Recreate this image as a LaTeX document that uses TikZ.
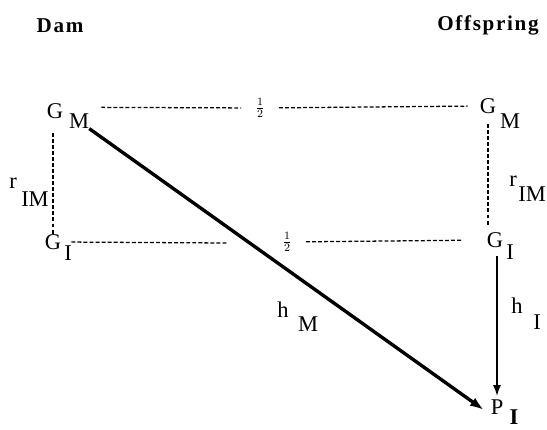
\documentclass[tikz,border=0pt]{standalone}
\usepackage{amsmath}
\usepackage{fontspec}
\setmainfont{Liberation Serif}
\usepackage{tikz}
\usetikzlibrary{arrows.meta}

\tikzset{
  varlbl/.style={inner sep=0pt, font=\fontsize{16}{18}\selectfont},
  headlbl/.style={inner sep=0pt, font=\fontsize{15}{17}\selectfont\bfseries\addfontfeatures{LetterSpace=8}},
  halflbl/.style={inner xsep=3.5mm, inner ysep=0pt, font=\fontsize{11}{12}\selectfont},
  corrline/.style={dash pattern=on 2.8pt off 1.5pt, line width=0.9pt},
  patharrow/.style={-{Latex[length=2.8mm, width=2mm]}, line width=1.4pt}
}

\begin{document}
\begin{tikzpicture}[x=0.25mm, y=-0.25mm]

      % --- Frame ---
      \useasboundingbox (0,0) rectangle (547,429);

      % --- Column Headings ---
      \node[headlbl] (dam) at (60,26) {Dam};
      \node[headlbl] (offspring) at (488,25) {Offspring};

      % --- Dam Side ---
      \node[varlbl] (gml) at (55,111) {G};
      \node[varlbl] (gmlsub) at (79,121) {M};
      \node[varlbl] (gil) at (53,242) {G};
      \node[varlbl] (gilsub) at (68,253) {I};
      \node[varlbl] (rl) at (13,183) {r};
      \node[varlbl] (rlsub) at (35,199) {IM};

      % --- Offspring Side ---
      \node[varlbl] (gmr) at (488,106) {G};
      \node[varlbl] (gmrsub) at (510,121) {M};
      \node[varlbl] (gir) at (495,240) {G};
      \node[varlbl] (girsub) at (510,252) {I};
      \node[varlbl] (rr) at (513,181) {r};
      \node[varlbl] (rrsub) at (532,194) {IM};

      % --- Phenotype ---
      \node[varlbl] (pi) at (497,407) {P};
      \node[varlbl, font=\fontsize{16}{18}\selectfont\bfseries] (pisub) at (514,417) {I};

      % --- Path Coefficients ---
      \node[varlbl] (hm) at (283,310) {h};
      \node[varlbl] (hmsub) at (308,324) {M};
      \node[varlbl] (hi) at (517,306) {h};
      \node[varlbl] (hisub) at (537,322) {I};

      % --- Halves ---
      \node[halflbl] (halfa) at (260,108) {$\frac{1}{2}$};
      \node[halflbl] (halfb) at (287,242) {$\frac{1}{2}$};
      \coordinate (gapb) at (227,243);

      % --- Dashed Correlations ---
      \draw[corrline, shorten >=3mm] ([shift={(12,-6)}]gmlsub.north east) -- (halfa) -- (gmr.west);
      \draw[corrline, shorten <=2.5mm] (gil.east) -- (gapb);
      \draw[corrline, shorten >=6mm] (halfb) -- (gir.west);
      \draw[corrline, shorten <=3.5mm] (gil.north |- gml.south) -- (gil.north);
      \draw[corrline, shorten <=2.5mm, shorten >=1.5mm] (gmr.south) -- (gmr.south |- gir.north);

      % --- Causal Paths ---
      \draw[patharrow, line width=2.4pt, -{Latex[length=3.5mm, width=2.4mm]}, shorten >=2mm] (gmlsub.south east) -- (pi.south west);
      \draw[patharrow, shorten <=2mm, shorten >=0.75mm] (pi.north |- gir.south) -- (pi.north);

\end{tikzpicture}
\end{document}
